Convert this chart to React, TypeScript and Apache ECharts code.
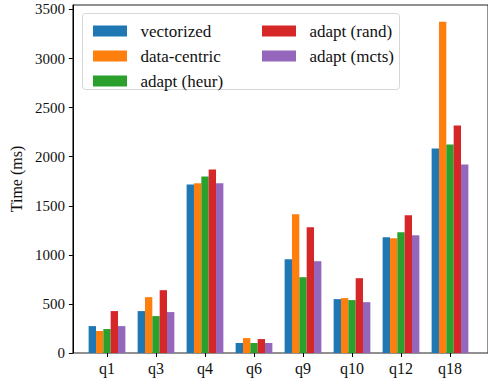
import React, { useEffect, useRef } from "react";
import * as echarts from "echarts";

const categories = ["q1", "q3", "q4", "q6", "q9", "q10", "q12", "q18"];
const seriesNames = ["vectorized", "data-centric", "adapt (heur)", "adapt (rand)", "adapt (mcts)"];
const vectorized = [274, 427, 1717, 102, 955, 549, 1179, 2083];
const dataCentric = [224, 569, 1728, 152, 1413, 559, 1169, 3374];
const adaptHeur = [244, 376, 1799, 102, 772, 539, 1230, 2124];
const adaptRand = [427, 640, 1870, 142, 1280, 762, 1402, 2317];
const adaptMcts = [274, 417, 1728, 102, 935, 518, 1199, 1921];
const yTicks = [0, 500, 1000, 1500, 2000, 2500, 3000, 3500];
const colors = ["#1f77b4", "#ff7f0e", "#2ca02c", "#d62728", "#9467bd"];

const FONT = "Liberation Serif";
const Y_MAX = 3545;

export default function App() {
  const ref = useRef<HTMLDivElement>(null);
  useEffect(() => {
    if (!ref.current) return;
    const chart = echarts.init(ref.current, undefined, { renderer: "svg" });
    const values = [vectorized, dataCentric, adaptHeur, adaptRand, adaptMcts];
    const legendCommon = {
      orient: "vertical",
      top: 17,
      itemWidth: 34,
      itemHeight: 11,
      itemGap: 7,
      icon: "rect",
      textStyle: { fontFamily: FONT, fontSize: 17, color: "#111", lineHeight: 18 },
      selectedMode: false,
      formatter: (n: string) => "  " + n,
    };
    chart.setOption({
      animation: false,
      grid: [
        { left: 72, top: 5, width: 430, bottom: 26, show: true, borderColor: "#222", borderWidth: 1, backgroundColor: "transparent" },
        { left: 82.5, top: 5, width: 392, bottom: 26 },
      ],
      xAxis: [
        { type: "value", gridIndex: 0, show: false, min: 0, max: 1 },
        {
          type: "category",
          gridIndex: 1,
          data: categories,
          axisLine: { show: false },
          axisTick: { show: true, alignWithLabel: true, length: 4, lineStyle: { color: "#000" } },
          axisLabel: { fontFamily: FONT, fontSize: 16, color: "#111", margin: 7, interval: 0 },
        },
      ],
      yAxis: [
        {
          type: "value",
          gridIndex: 0,
          min: 0,
          max: Y_MAX,
          name: "Time (ms)",
          nameLocation: "middle",
          nameRotate: 90,
          nameGap: 47,
          nameTextStyle: { fontFamily: FONT, fontSize: 16, color: "#111" },
          axisLine: { show: true, lineStyle: { color: "#000" } },
          axisTick: { show: true, length: 4, lineStyle: { color: "#000" }, customValues: yTicks },
          axisLabel: {
            fontFamily: FONT,
            fontSize: 15,
            color: "#111",
            margin: 8,
            customValues: yTicks,
            formatter: (v: number) => String(v),
          },
          splitLine: { show: false },
        },
        { type: "value", gridIndex: 1, min: 0, max: Y_MAX, show: false, splitLine: { show: false } },
      ],
      legend: [
        { ...legendCommon, data: seriesNames.slice(0, 3), left: 88 },
        { ...legendCommon, data: seriesNames.slice(3), left: 257 },
      ],
      graphic: [
        {
          type: "rect",
          z: -1,
          shape: { x: 82.5, y: 13.5, width: 317, height: 76, r: 3 },
          style: { fill: "rgba(255,255,255,0.8)", stroke: "#d6d6d6", lineWidth: 1 },
        },
      ],
      series: seriesNames.map((name, i) => ({
        name,
        type: "bar",
        xAxisIndex: 1,
        yAxisIndex: 1,
        data: values[i],
        barWidth: 7.35,
        barGap: "0%",
        itemStyle: { color: colors[i] },
      })),
    });
    return () => chart.dispose();
  }, []);
  return <div ref={ref} style={{ width: 488, height: 379, position: "absolute", left: 0, top: 0 }} />;
}
